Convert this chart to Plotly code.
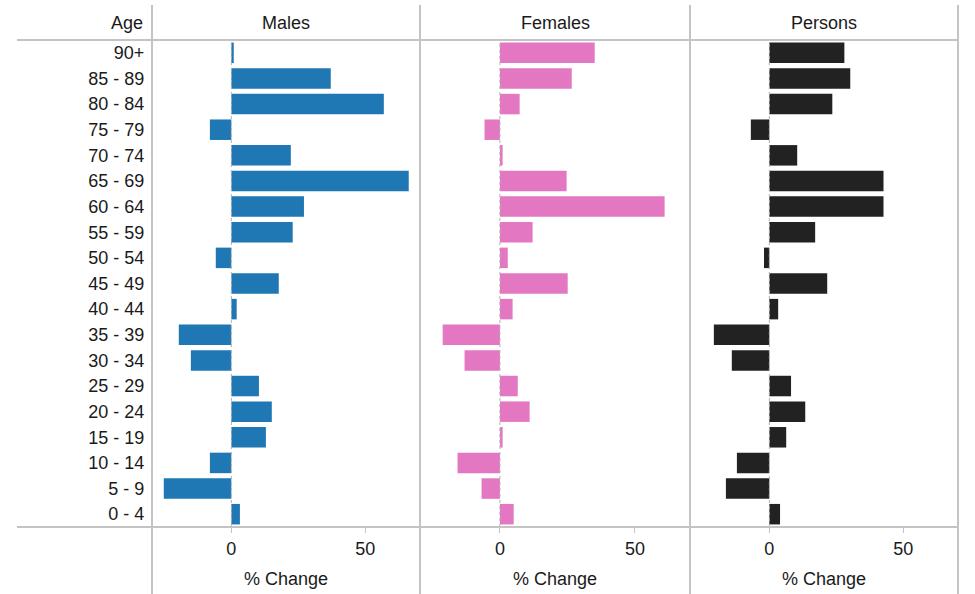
import plotly.graph_objects as go

age_groups = ["90+", "85 - 89", "80 - 84", "75 - 79", "70 - 74", "65 - 69", "60 - 64",
              "55 - 59", "50 - 54", "45 - 49", "40 - 44", "35 - 39", "30 - 34",
              "25 - 29", "20 - 24", "15 - 19", "10 - 14", "5 - 9", "0 - 4"]
males = [0.9, 37.1, 56.9, -8.0, 22.2, 66.2, 27.1, 22.9, -5.8, 17.7, 2.0,
         -19.6, -15.1, 10.3, 15.1, 12.9, -8.0, -25.2, 3.2]
females = [35.1, 26.6, 7.3, -5.7, 1.0, 24.7, 61.0, 12.1, 2.9, 25.1, 4.7,
           -21.2, -13.1, 6.6, 11.0, 1.0, -15.7, -6.8, 5.1]
persons = [28.0, 30.2, 23.5, -6.9, 10.4, 42.6, 42.6, 17.1, -2.0, 21.6, 3.3,
           -20.7, -14.0, 8.1, 13.4, 6.3, -12.1, -16.2, 4.0]
panel_titles = ["Males", "Females", "Persons"]
panel_colors = ["#1f77b4", "#e377c2", "#222222"]
x_ticks = [0, 50]
x_title = "% Change"

W, H = 975, 594
def px(x):
    return x / W
def py(y):
    return 1 - y / H

FONT = "Liberation Sans, Arial, sans-serif"
TXT = "#1a1a1a"
GRID = "#c4c4c4"
FS = 18

panel_edges = [152, 420, 690, 958]
y_top, y_bot = 40, 527
xrange_ = [-29.6, 70.4]

fig = go.Figure()
series = [males, females, persons]
axes = ["x", "x2", "x3"]
for i, (vals, col, ax) in enumerate(zip(series, panel_colors, axes)):
    fig.add_trace(go.Bar(
        x=vals, y=age_groups, orientation="h", marker=dict(color=col, line=dict(width=0)),
        xaxis=ax, yaxis="y", showlegend=False, name=panel_titles[i]))

layout = dict(
    width=W, height=H, margin=dict(l=0, r=0, t=0, b=0),
    paper_bgcolor="white", plot_bgcolor="white",
    bargap=0.2, font=dict(family=FONT, size=FS, color=TXT),
    yaxis=dict(domain=[py(y_bot), py(y_top)], categoryorder="array",
               categoryarray=age_groups[::-1], range=[-0.5, len(age_groups) - 0.5],
               anchor="x", showgrid=False, zeroline=False, showline=False,
               ticks="outside", ticklen=3, tickcolor="rgba(0,0,0,0)",
               tickfont=dict(size=FS, color=TXT)),
)
for i, ax in enumerate(axes):
    key = "xaxis" if i == 0 else f"xaxis{i+1}"
    layout[key] = dict(
        domain=[px(panel_edges[i]), px(panel_edges[i + 1])], range=xrange_,
        anchor="y", showgrid=False, zeroline=False, showline=False,
        tickvals=x_ticks, ticks="outside", ticklen=5, tickcolor=GRID, tickwidth=1,
        tickfont=dict(size=FS, color=TXT),
        title=dict(text=x_title, font=dict(size=FS, color=TXT), standoff=14))
fig.update_layout(**layout)

shapes = []
# zero reference lines (dotted)
for ax in axes:
    shapes.append(dict(type="line", xref=ax, yref="paper", x0=0, x1=0,
                       y0=py(y_bot), y1=py(y_top),
                       line=dict(color="#b0b0b0", width=1, dash="dot"), layer="above"))
# frame lines
for yv in (y_top, y_bot):
    shapes.append(dict(type="line", xref="paper", yref="paper", x0=px(17), x1=px(958),
                       y0=py(yv), y1=py(yv), line=dict(color=GRID, width=2)))
for xv in panel_edges:
    shapes.append(dict(type="line", xref="paper", yref="paper", x0=px(xv), x1=px(xv),
                       y0=0, y1=py(5), line=dict(color=GRID, width=2)))
fig.update_layout(shapes=shapes)

annotations = [dict(text="Age", xref="paper", yref="paper", x=px(145), y=py(23),
                    xanchor="right", yanchor="middle", showarrow=False,
                    font=dict(size=FS, color=TXT))]
for i, t in enumerate(panel_titles):
    annotations.append(dict(text=t, xref="paper", yref="paper",
                            x=px((panel_edges[i] + panel_edges[i + 1]) / 2), y=py(23),
                            xanchor="center", yanchor="middle", showarrow=False,
                            font=dict(size=FS, color=TXT)))
fig.update_layout(annotations=annotations)

fig.write_html("out.html", config={"displayModeBar": False},
               post_script="document.body.style.margin='0';document.body.style.overflow='hidden';")
